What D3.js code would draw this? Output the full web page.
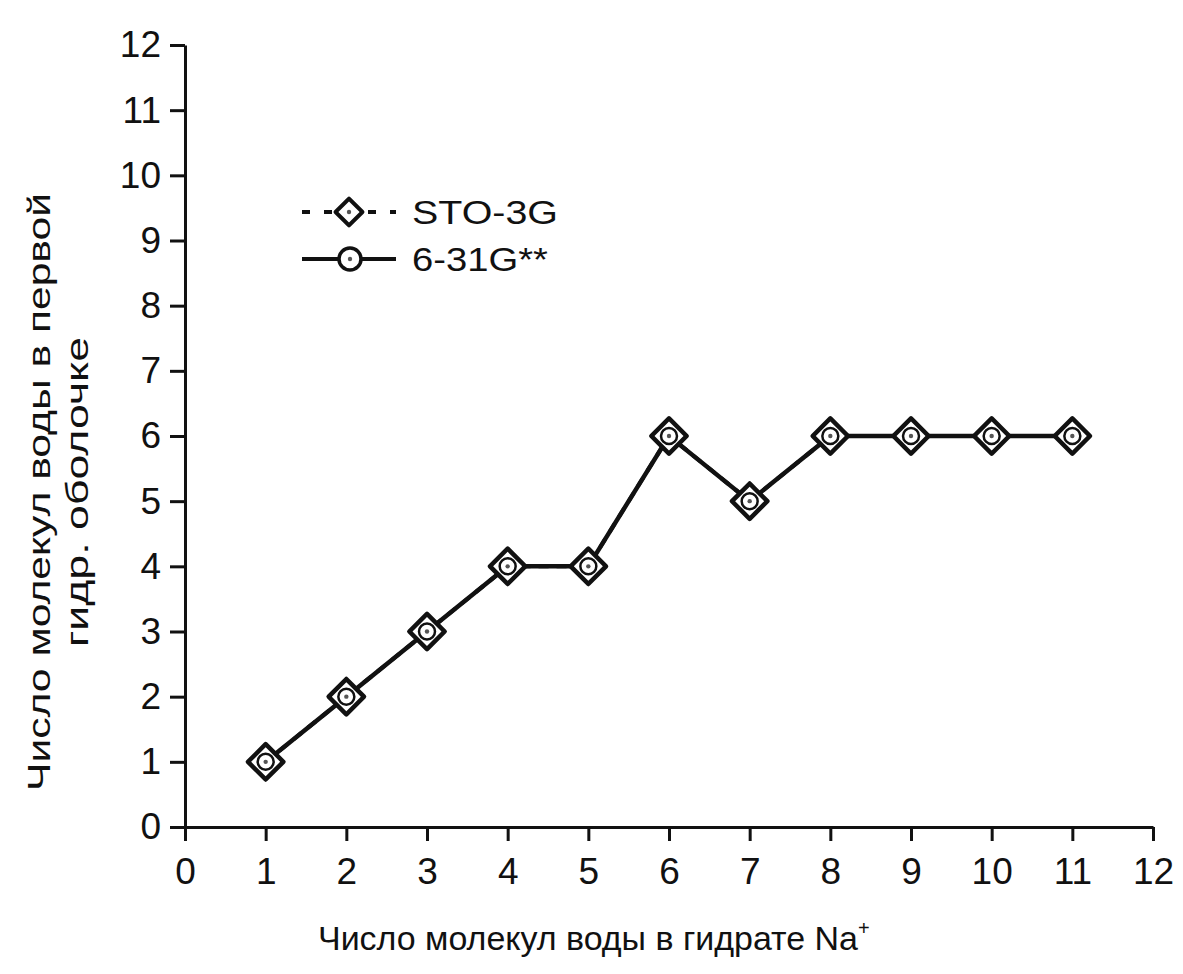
<!DOCTYPE html>
<html><head><meta charset="utf-8">
<script src="https://cdn.jsdelivr.net/npm/d3@7"></script>
<style>body{margin:0;background:#fff}svg{display:block}text{font-family:"Liberation Sans",Arial,sans-serif;fill:#111}</style>
</head><body><svg id="c" width="1183" height="974"></svg>
<script>
const xValues = [1,2,3,4,5,6,7,8,9,10,11];
const sto3g   = [1,2,3,4,4,6,5,6,6,6,6];
const g631    = [1,2,3,4,4,6,5,6,6,6,6];
const seriesNames = ["STO-3G","6-31G**"];
const xTicks = [0,1,2,3,4,5,6,7,8,9,10,11,12];
const yTicks = [0,1,2,3,4,5,6,7,8,9,10,11,12];
const xTitle = "Число молекул воды в гидрате Na";
const yTitle = ["Число молекул воды в первой","гидр. оболочке"];

const svg = d3.select("#c");
const x = d3.scaleLinear().domain([0,12]).range([185,1153]);
const y = d3.scaleLinear().domain([0,12]).range([827,45]);
const ink = "#111";

// axes
const xa = svg.append("g").attr("transform",`translate(0,${y(0)})`)
  .call(d3.axisBottom(x).tickValues(xTicks).tickSize(14).tickPadding(17).tickSizeOuter(0));
const ya = svg.append("g").attr("transform",`translate(${x(0)},0)`)
  .call(d3.axisLeft(y).tickValues(yTicks).tickSize(15).tickPadding(9).tickSizeOuter(0));
[xa,ya].forEach(a=>{
  a.select(".domain").attr("stroke",ink).attr("stroke-width",3);
  a.selectAll(".tick line").attr("stroke",ink).attr("stroke-width",3);
  a.selectAll(".tick text").attr("font-size",37).attr("fill",ink)
   .style("font-family","'Liberation Sans',Arial,sans-serif");
});

// lines
const pts = xValues.map((v,i)=>[v,g631[i]]);
const line = d3.line().x(d=>x(d[0])).y(d=>y(d[1]));
svg.append("path").attr("d",line(xValues.map((v,i)=>[v,sto3g[i]])))
  .attr("fill","none").attr("stroke",ink).attr("stroke-width",4).attr("stroke-dasharray","10,8");
svg.append("path").attr("d",line(pts)).attr("fill","none").attr("stroke",ink).attr("stroke-width",4.5);

const diamond = d3.symbol().type(d3.symbolSquare);
function marker(g, big){
  g.append("path").attr("d",diamond.size(big?25*25:19*19)()).attr("transform","rotate(45)")
    .attr("fill","#fff").attr("stroke",ink).attr("stroke-width",big?4.5:4).attr("stroke-linejoin","round");
}
function circ(g, r){
  g.append("circle").attr("r",r).attr("fill","#fff").attr("stroke",ink).attr("stroke-width",2.5);
  g.append("circle").attr("r",2.2).attr("fill","#555");
}
const mg = svg.append("g");
xValues.forEach((v,i)=>{
  const g = mg.append("g").attr("transform",`translate(${x(v)},${y(sto3g[i])})`);
  marker(g,true);
  const g2 = mg.append("g").attr("transform",`translate(${x(v)},${y(g631[i])})`);
  circ(g2,8);
});

// legend
const lg = svg.append("g");
const l1 = lg.append("g").attr("transform","translate(0,212)");
l1.append("line").attr("x1",302).attr("x2",396).attr("stroke",ink).attr("stroke-width",4).attr("stroke-dasharray","8,14");
const m1 = l1.append("g").attr("transform","translate(349,0)");
marker(m1,false);
m1.append("circle").attr("r",2.2).attr("fill","#555");
l1.append("text").attr("x",412).attr("y",12).attr("font-size",33)
  .attr("textLength",146).attr("lengthAdjust","spacingAndGlyphs").text(seriesNames[0]);
const l2 = lg.append("g").attr("transform","translate(0,259)");
l2.append("line").attr("x1",302).attr("x2",396).attr("stroke",ink).attr("stroke-width",4);
const m2 = l2.append("g").attr("transform","translate(350,0)");
circ(m2,11);
m2.select("circle").attr("stroke-width",3.5);
l2.append("text").attr("x",412).attr("y",12).attr("font-size",33)
  .attr("textLength",136).attr("lengthAdjust","spacingAndGlyphs").text(seriesNames[1]);

// titles
const xt = svg.append("text").attr("x",318).attr("y",950).attr("font-size",33);
xt.append("tspan").attr("textLength",540).attr("lengthAdjust","spacingAndGlyphs").text(xTitle);
xt.append("tspan").attr("dy",-15).attr("font-size",20).text("+");
const yt = svg.append("text").attr("transform","translate(50,492) rotate(-90)").attr("text-anchor","middle").attr("font-size",32);
yt.append("tspan").attr("x",0).attr("y",0).attr("textLength",598).attr("lengthAdjust","spacingAndGlyphs").text(yTitle[0]);
yt.append("tspan").attr("x",0).attr("y",38).attr("textLength",310).attr("lengthAdjust","spacingAndGlyphs").text(yTitle[1]);
</script></body></html>
